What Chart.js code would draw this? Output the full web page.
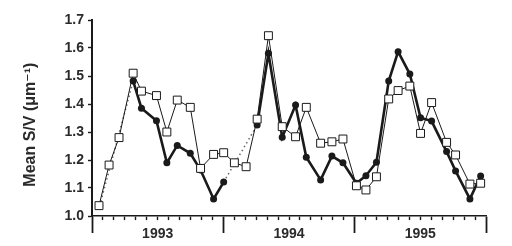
<!DOCTYPE html>
<html>
<head>
<meta charset="utf-8">
<script src="https://cdn.jsdelivr.net/npm/chart.js@4/dist/chart.umd.min.js"></script>
<style>
  html, body { margin: 0; padding: 0; background: #fff; }
  #wrap { width: 512px; height: 246px; }
</style>
</head>
<body>
<div id="wrap"><canvas id="c" width="512" height="246"></canvas></div>
<script>
// Months since 1 Jan 1993 (sampling dates), and mean S/V values
const openMonths = [0.64, 1.56, 2.47, 3.76, 4.52, 5.89, 6.84, 7.79, 8.98, 9.92, 11.11, 12.03,
  13.01, 14.08, 15.09, 16.12, 17.38, 18.60, 19.58, 20.89, 21.92, 22.93, 24.16,
  25.03, 25.99, 27.11, 27.97, 29.04, 30.02, 31.03, 32.40, 33.22, 34.53, 35.51];
const openValues = [1.037, 1.182, 1.28, 1.51, 1.446, 1.43, 1.30, 1.414, 1.388, 1.17, 1.22, 1.226,
  1.19, 1.176, 1.346, 1.644, 1.319, 1.283, 1.388, 1.26, 1.265, 1.275, 1.108,
  1.093, 1.14, 1.418, 1.448, 1.464, 1.295, 1.405, 1.263, 1.218, 1.114, 1.117];

// null = no sample (gap bridged by a dotted line)
const filledMonths = [0.7, 2.0, 3.76, 4.52, 5.89, 6.84, 7.79, 8.98, 9.92, 11.11, 12.03,
  13.5, 15.09, 16.12, 17.38, 18.60, 19.58, 20.89, 21.92, 22.93, 24.16,
  25.03, 25.99, 27.11, 27.97, 29.04, 30.02, 31.03, 32.40, 33.22, 34.53, 35.51];
const filledValues = [1.037, null, 1.482, 1.385, 1.34, 1.19, 1.252, 1.224, 1.164, 1.061, 1.121,
  null, 1.325, 1.581, 1.281, 1.396, 1.21, 1.129, 1.214, 1.19, 1.117,
  1.144, 1.192, 1.482, 1.587, 1.507, 1.351, 1.339, 1.23, 1.161, 1.061, 1.143];

const yearLabels = ['1993', '1994', '1995'];
const yTicks = [1.0, 1.1, 1.2, 1.3, 1.4, 1.5, 1.6, 1.7];
const monthTicks = Array.from({length: 37}, (_, i) => i);

const openData = openMonths.map((x, i) => ({x, y: openValues[i]}));
const filledData = filledMonths.map((x, i) => ({x, y: filledValues[i]}));

const FONT = "'Liberation Sans', 'DejaVu Sans', Arial, sans-serif";
const INK = '#1a1a1a';
const TXT = '#2a2a2a';

new Chart(document.getElementById('c'), {
  type: 'scatter',
  data: {
    datasets: [
      {
        label: 'open',
        data: openData,
        showLine: true,
        borderColor: INK,
        borderWidth: 1,
        pointStyle: 'rect',
        pointRadius: 5.6,
        pointBackgroundColor: '#fff',
        pointBorderColor: INK,
        pointBorderWidth: 1,
        order: 0
      },
      {
        label: 'filled',
        data: filledData,
        showLine: true,
        spanGaps: true,
        borderColor: INK,
        borderWidth: 2.6,
        pointStyle: 'circle',
        pointRadius: 3.5,
        pointBackgroundColor: INK,
        pointBorderColor: INK,
        pointBorderWidth: 0,
        segment: {
          borderDash: ctx => (ctx.p0.skip || ctx.p1.skip) ? [1.5, 3] : undefined,
          borderWidth: ctx => (ctx.p0.skip || ctx.p1.skip) ? 1.5 : undefined,
          borderColor: ctx => (ctx.p0.skip || ctx.p1.skip) ? '#666' : undefined
        },
        order: 1
      }
    ]
  },
  options: {
    responsive: false,
    animation: false,
    devicePixelRatio: 1,
    layout: { padding: { left: 21, top: 20, right: 26, bottom: 0 } },
    plugins: { legend: { display: false }, tooltip: { enabled: false } },
    scales: {
      x: {
        type: 'linear',
        min: 0,
        max: 36,
        afterBuildTicks: s => { s.ticks = monthTicks.map(v => ({value: v})); },
        afterFit: s => { s.height = 30; },
        border: { display: true, color: INK, width: 1.6 },
        grid: {
          drawOnChartArea: false,
          drawTicks: true,
          tickLength: 17,
          tickColor: INK,
          tickWidth: ctx => (ctx.tick && ctx.tick.value % 12 === 0) ? 1.8 : 1.4,
          tickBorderDash: ctx => (ctx.tick && ctx.tick.value % 12 === 0) ? [] : [3.5, 40]
        },
        ticks: {
          autoSkip: false,
          maxRotation: 0,
          padding: -7,
          color: TXT,
          font: { family: FONT, size: 14, weight: 'bold' },
          callback: v => (v % 12 === 6) ? yearLabels[Math.floor(v / 12)] : ''
        }
      },
      y: {
        type: 'linear',
        min: 1.0,
        max: 1.7,
        afterBuildTicks: s => { s.ticks = yTicks.map(v => ({value: v})); },
        afterFit: s => { s.width = 92 - 21; },
        border: { display: true, color: INK, width: 2 },
        grid: {
          drawOnChartArea: false,
          tickLength: 4,
          tickColor: INK,
          tickWidth: 1.4
        },
        ticks: {
          padding: 4,
          color: TXT,
          font: { family: FONT, size: 14, weight: 'bold' },
          callback: v => Number(v).toFixed(1)
        },
        title: {
          display: true,
          text: 'Mean S/V (\u03bcm\u207b\u00b9)\u00a0\u00a0\u00a0',
          color: TXT,
          padding: 0,
          font: { family: FONT, size: 16, weight: 'bold' }
        }
      }
    }
  }
});
</script>
</body>
</html>
